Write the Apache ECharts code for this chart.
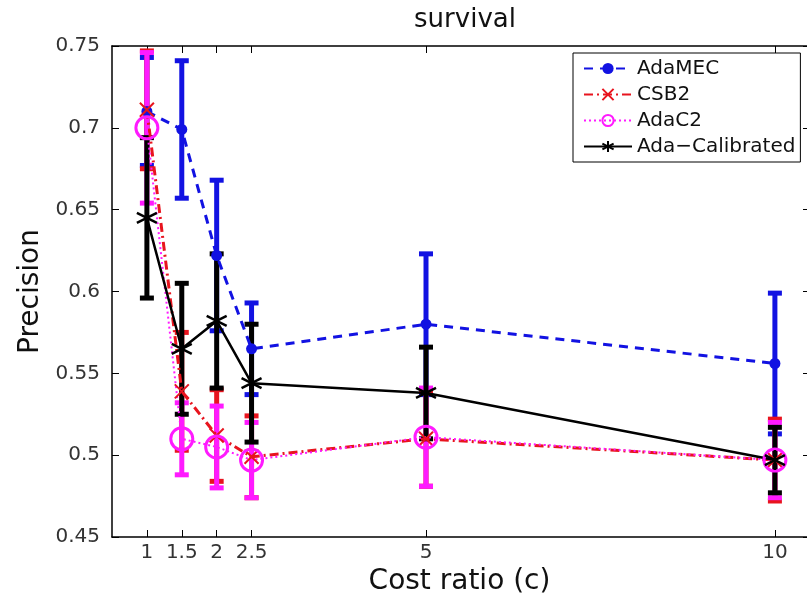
<!DOCTYPE html>
<html>
<head>
<meta charset="utf-8">
<script src="https://cdn.jsdelivr.net/npm/echarts@6/dist/echarts.min.js"></script>
<style>
  html, body { margin: 0; padding: 0; background: #fff; }
  #graph { width: 807px; height: 595px; }
</style>
</head>
<body>
<div id="graph"></div>
<script>
// cost ratios on the x axis
const costRatio = [1, 1.5, 2, 2.5, 5, 10];
const xTicks = [1, 1.5, 2, 2.5, 5, 10];

// mean precision and half-width of the error bar, per method
const adaMEC = [0.710, 0.699, 0.622, 0.565, 0.580, 0.556];
const adaMECErr = [0.033, 0.042, 0.046, 0.028, 0.043, 0.043];
const csb2 = [0.711, 0.539, 0.512, 0.499, 0.510, 0.497];
const csb2Err = [0.036, 0.036, 0.028, 0.025, 0.029, 0.025];
const adaC2 = [0.700, 0.510, 0.505, 0.497, 0.511, 0.497];
const adaC2Err = [0.046, 0.022, 0.025, 0.023, 0.030, 0.023];
const adaCal = [0.645, 0.565, 0.582, 0.544, 0.538, 0.497];
const adaCalErr = [0.049, 0.040, 0.041, 0.036, 0.028, 0.020];

const FONT = 'DejaVu Sans';

function pairs(vals) {
  return costRatio.map((x, i) => [x, vals[i]]);
}
function errRows(vals, errs) {
  return costRatio.map((x, i) => [x, vals[i] - errs[i], vals[i] + errs[i]]);
}

function errorSeries(name, vals, errs, color) {
  return {
    name: name + '-err',
    type: 'custom',
    data: errRows(vals, errs),
    renderItem: function (params, api) {
      const x = api.value(0);
      const top = api.coord([x, api.value(2)]);
      const bot = api.coord([x, api.value(1)]);
      const w = 7;
      const st = { stroke: color, lineWidth: 5 };
      return {
        type: 'group',
        children: [
          { type: 'line', shape: { x1: top[0], y1: top[1], x2: bot[0], y2: bot[1] }, style: st },
          { type: 'line', shape: { x1: top[0] - w, y1: top[1], x2: top[0] + w, y2: top[1] }, style: st },
          { type: 'line', shape: { x1: bot[0] - w, y1: bot[1], x2: bot[0] + w, y2: bot[1] }, style: st }
        ]
      };
    },
    silent: true
  };
}

const blue = '#1212e2';
const red = '#e8141e';
const magenta = '#ff1aff';
const black = '#000000';

const chart = echarts.init(document.getElementById('graph'));

chart.setOption({
  backgroundColor: '#fff',
  animation: false,
  title: {
    text: 'survival',
    left: 460,
    top: 2,
    textAlign: 'center',
    textStyle: { fontFamily: FONT, fontSize: 26, fontWeight: 'normal', color: '#111' }
  },
  legend: {
    data: ['AdaMEC', 'CSB2', 'AdaC2', 'Ada-Calibrated'],
    orient: 'vertical',
    left: 573,
    top: 53,
    padding: [5, 5, 5, 10],
    itemGap: 5,
    itemWidth: 48,
    itemHeight: 14,
    backgroundColor: '#fff',
    borderColor: '#000',
    borderWidth: 1,
    borderRadius: 0,
    textStyle: { fontFamily: FONT, fontSize: 20, lineHeight: 21, color: '#111' },
    formatter: function (n) { return n === 'Ada-Calibrated' ? 'Ada\u2212Calibrated' : n; }
  },
  grid: { left: 112, top: 46, right: 0, bottom: 58, outerBoundsMode: 'none' },
  xAxis: [
    {
      type: 'value',
      min: 0.5,
      max: 10.46,
      name: 'Cost ratio (c)',
      nameLocation: 'middle',
      nameGap: 29,
      nameTextStyle: { fontFamily: FONT, fontSize: 28, color: '#111' },
      axisLine: { lineStyle: { color: '#000', width: 1.5 } },
      axisTick: { inside: true, length: 7, customValues: xTicks, lineStyle: { color: '#000' } },
      axisLabel: { customValues: xTicks, fontFamily: FONT, fontSize: 20, color: '#333', margin: 6 },
      splitLine: { show: false }
    },
    {
      type: 'value',
      position: 'top',
      min: 0.5,
      max: 10.46,
      axisLine: { lineStyle: { color: '#000', width: 1.5 } },
      axisTick: { inside: true, length: 7, customValues: xTicks, lineStyle: { color: '#000' } },
      axisLabel: { show: false, customValues: xTicks },
      splitLine: { show: false }
    }
  ],
  yAxis: [
    {
      type: 'value',
      min: 0.45,
      max: 0.75,
      interval: 0.05,
      name: 'Precision',
      nameLocation: 'middle',
      nameGap: 60,
      nameRotate: 90,
      nameTextStyle: { fontFamily: FONT, fontSize: 28, color: '#111' },
      axisLine: { show: true, lineStyle: { color: '#000', width: 1.5 } },
      axisTick: { show: true, inside: true, length: 7, lineStyle: { color: '#000' } },
      axisLabel: {
        fontFamily: FONT, fontSize: 20, color: '#333', margin: 12,
        formatter: function (v) { return String(+v.toFixed(2)); }
      },
      splitLine: { show: false }
    },
    {
      type: 'value',
      position: 'right',
      min: 0.45,
      max: 0.75,
      interval: 0.05,
      axisLine: { show: false },
      axisTick: { show: true, inside: true, length: 4, lineStyle: { color: '#000' } },
      axisLabel: { show: false },
      splitLine: { show: false }
    }
  ],
  series: [
    errorSeries('AdaMEC', adaMEC, adaMECErr, blue),
    {
      name: 'AdaMEC',
      type: 'line',
      data: pairs(adaMEC),
      symbol: 'circle',
      symbolSize: 11,
      itemStyle: { color: blue },
      lineStyle: { color: blue, width: 3, type: [9, 7] }
    },
    errorSeries('CSB2', csb2, csb2Err, red),
    {
      name: 'CSB2',
      type: 'line',
      data: pairs(csb2),
      symbol: 'path://M0,0L10,10M10,0L0,10',
      symbolSize: 14,
      itemStyle: { color: 'none', borderColor: red, borderWidth: 2 },
      lineStyle: { color: red, width: 3, type: [9, 4, 2, 4] }
    },
    errorSeries('AdaC2', adaC2, adaC2Err, magenta),
    {
      name: 'AdaC2',
      type: 'line',
      data: pairs(adaC2),
      symbol: 'circle',
      symbolSize: 22,
      itemStyle: { color: 'rgba(0,0,0,0)', borderColor: magenta, borderWidth: 3 },
      lineStyle: { color: magenta, width: 2, type: [2, 3] }
    },
    errorSeries('Ada-Calibrated', adaCal, adaCalErr, black),
    {
      name: 'Ada-Calibrated',
      type: 'line',
      data: pairs(adaCal),
      symbol: 'path://M5,0L5,10M0.7,2.5L9.3,7.5M0.7,7.5L9.3,2.5',
      symbolSize: 20,
      itemStyle: { color: 'none', borderColor: black, borderWidth: 2.5 },
      lineStyle: { color: black, width: 2.5 }
    }
  ]
});
</script>
</body>
</html>
